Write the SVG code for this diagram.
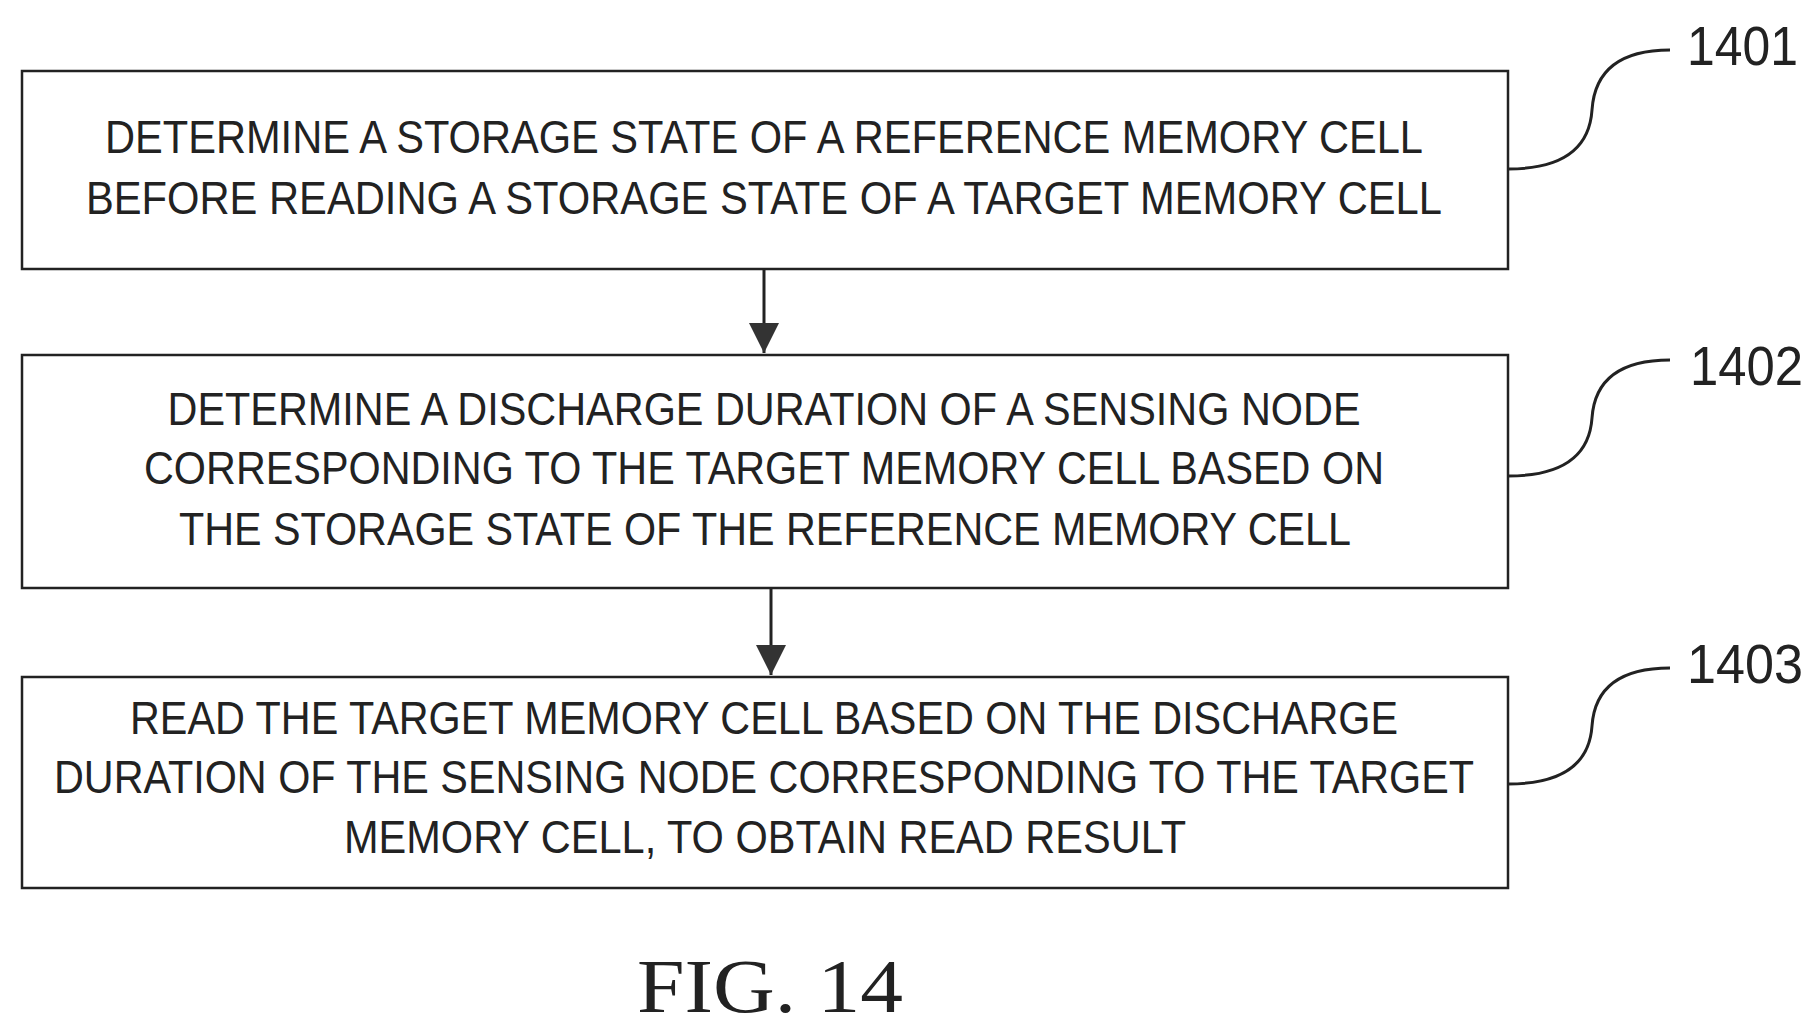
<svg xmlns="http://www.w3.org/2000/svg" width="1814" height="1029" viewBox="0 0 1814 1029">
<style>
.box{fill:#fff;stroke:#222;stroke-width:2.5}
.t{font-family:"Liberation Sans",Arial,sans-serif;font-size:46px;fill:#222;text-anchor:middle}
.lbl{font-family:"Liberation Sans",Arial,sans-serif;font-size:56px;fill:#222}
.lead{fill:none;stroke:#222;stroke-width:3}
.con{stroke:#222;stroke-width:3;fill:none}
</style>
<defs>
<marker id="a" viewBox="0 0 30 34" refX="30" refY="17" markerWidth="30" markerHeight="34" markerUnits="userSpaceOnUse" orient="auto"><path d="M0,2 L30,17 L0,32 Z" fill="#333"/></marker></defs>
<rect width="1814" height="1029" fill="#fff"/>
<g id="connectors">
<line class="con" x1="764" y1="269" x2="764" y2="353" marker-end="url(#a)"/>
<line class="con" x1="771" y1="588" x2="771" y2="675" marker-end="url(#a)"/>
<path class="lead" d="M1508,169 Q1588,169 1592,110 Q1596,50 1670,50"/>
<path class="lead" d="M1508,476 Q1588,476 1592,418 Q1596,360 1670,360"/>
<path class="lead" d="M1508,784 Q1588,784 1592,726 Q1596,668 1670,668"/>
</g>
<g id="n1401">
<rect class="box" x="22" y="71" width="1486" height="198"/>
<text class="t" x="764" y="153" textLength="1318" lengthAdjust="spacingAndGlyphs">DETERMINE A STORAGE STATE OF A REFERENCE MEMORY CELL</text>
<text class="t" x="764" y="214" textLength="1356" lengthAdjust="spacingAndGlyphs">BEFORE READING A STORAGE STATE OF A TARGET MEMORY CELL</text>
<text class="lbl" x="1687" y="65" textLength="111" lengthAdjust="spacingAndGlyphs">1401</text>
</g>
<g id="n1402">
<rect class="box" x="22" y="355" width="1486" height="233"/>
<text class="t" x="764" y="425" textLength="1193" lengthAdjust="spacingAndGlyphs">DETERMINE A DISCHARGE DURATION OF A SENSING NODE</text>
<text class="t" x="764" y="484" textLength="1240" lengthAdjust="spacingAndGlyphs">CORRESPONDING TO THE TARGET MEMORY CELL BASED ON</text>
<text class="t" x="765" y="545" textLength="1172" lengthAdjust="spacingAndGlyphs">THE STORAGE STATE OF THE REFERENCE MEMORY CELL</text>
<text class="lbl" x="1690" y="385" textLength="113" lengthAdjust="spacingAndGlyphs">1402</text>
</g>
<g id="n1403">
<rect class="box" x="22" y="677" width="1486" height="211"/>
<text class="t" x="764" y="734" textLength="1268" lengthAdjust="spacingAndGlyphs">READ THE TARGET MEMORY CELL BASED ON THE DISCHARGE</text>
<text class="t" x="764" y="793" textLength="1420" lengthAdjust="spacingAndGlyphs">DURATION OF THE SENSING NODE CORRESPONDING TO THE TARGET</text>
<text class="t" x="765" y="853" textLength="842" lengthAdjust="spacingAndGlyphs">MEMORY CELL, TO OBTAIN READ RESULT</text>
<text class="lbl" x="1687" y="683" textLength="116" lengthAdjust="spacingAndGlyphs">1403</text>
</g>
<text x="770" y="1012" text-anchor="middle" font-family="'Liberation Serif','Times New Roman',serif" font-size="76" fill="#222" textLength="266" lengthAdjust="spacingAndGlyphs">FIG. 14</text>
</svg>
